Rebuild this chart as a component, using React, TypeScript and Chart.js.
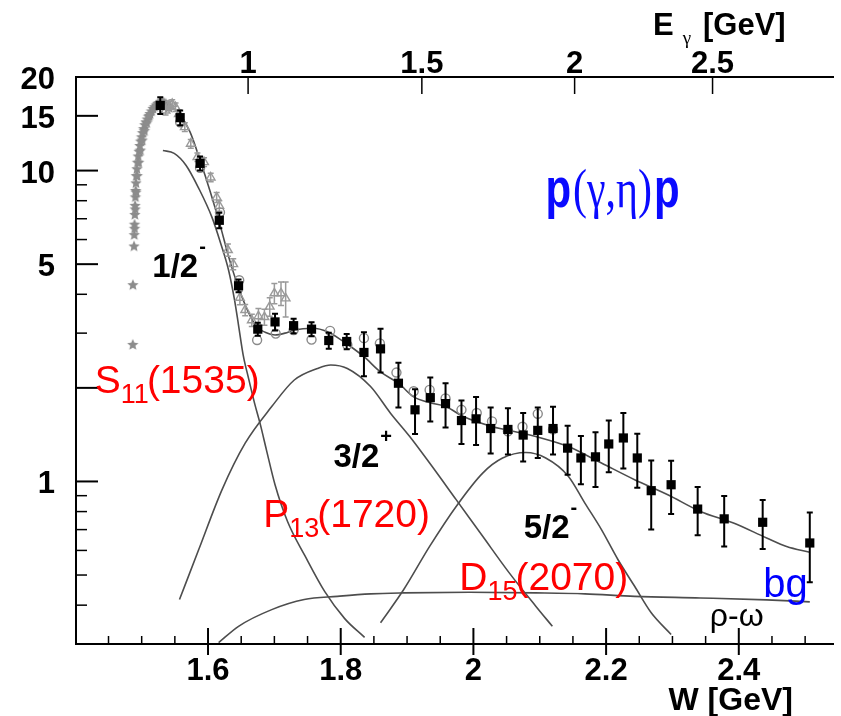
import React, { useEffect, useRef } from 'react';
import { Chart, registerables } from 'chart.js';

Chart.register(...registerables);

// ---- eta photoproduction total cross section, p(gamma,eta)p ----
// W in GeV, cross section in microbarn

// Main data set (filled squares)
const W_SQ = [1.528, 1.558, 1.588, 1.617, 1.646, 1.675, 1.701, 1.729, 1.756, 1.782, 1.809, 1.835, 1.860, 1.887, 1.912, 1.935, 1.958, 1.982, 2.004, 2.026, 2.052, 2.075, 2.097, 2.120, 2.142, 2.162, 2.184, 2.204, 2.226, 2.247, 2.268, 2.298, 2.338, 2.378, 2.436, 2.507];
const XS_SQ = [16.2, 14.8, 10.55, 6.92, 4.26, 3.09, 3.26, 3.17, 3.09, 2.84, 2.82, 2.60, 2.67, 2.07, 1.70, 1.86, 1.78, 1.57, 1.59, 1.48, 1.47, 1.41, 1.46, 1.48, 1.28, 1.19, 1.20, 1.32, 1.38, 1.19, 0.934, 0.976, 0.815, 0.758, 0.739, 0.634];
const ERR_SQ = [1.0, 0.8, 0.55, 0.40, 0.20, 0.15, 0.20, 0.17, 0.16, 0.17, 0.16, 0.42, 0.43, 0.34, 0.28, 0.30, 0.29, 0.25, 0.28, 0.25, 0.25, 0.25, 0.27, 0.26, 0.23, 0.21, 0.24, 0.25, 0.28, 0.235, 0.234, 0.19, 0.144, 0.14, 0.133, 0.16];

// Second data set (open circles)
const W_CIRC = [1.558, 1.588, 1.618, 1.647, 1.674, 1.702, 1.729, 1.756, 1.784, 1.810, 1.835, 1.859, 1.884, 1.910, 1.934, 1.958, 1.982, 2.005, 2.028, 2.052, 2.074, 2.097, 2.120];
const XS_CIRC = [14.3, 10.2, 7.34, 4.44, 2.85, 2.99, 3.07, 2.86, 3.05, 2.75, 2.89, 2.78, 2.24, 1.95, 1.97, 1.85, 1.70, 1.66, 1.56, 1.45, 1.50, 1.65, 1.47];

// Third data set (open triangles)
const W_TRI = [1.536, 1.541, 1.546, 1.551, 1.556, 1.565, 1.574, 1.584, 1.594, 1.604, 1.613, 1.617, 1.630, 1.638, 1.648, 1.656, 1.666, 1.676, 1.685, 1.693, 1.700, 1.710, 1.717];
const XS_TRI = [15.6, 16.2, 16.4, 16.0, 15.2, 13.8, 12.2, 11.05, 10.65, 9.5, 8.2, 7.7, 5.55, 5.0, 3.9, 3.56, 3.30, 3.40, 3.38, 3.65, 4.03, 4.03, 3.88];
const ERR_TRI = [0.5, 0.5, 0.5, 0.5, 0.5, 0.45, 0.4, 0.35, 0.35, 0.3, 0.3, 0.3, 0.25, 0.2, 0.2, 0.15, 0.15, 0.2, 0.2, 0.25, 0.3, 0.35, 0.5];

// Threshold region (stars)
const W_STAR = [1.4866, 1.4868, 1.4885, 1.4888, 1.4892, 1.4897, 1.4901, 1.4905, 1.4909, 1.4914, 1.4920, 1.4928, 1.4937, 1.4948, 1.4960, 1.4972, 1.4985, 1.4999, 1.5014, 1.5030, 1.5047, 1.5065, 1.5084, 1.5104, 1.5125, 1.5147, 1.5170, 1.5194, 1.5218, 1.5242, 1.5266, 1.5290, 1.5314, 1.5338, 1.5362, 1.5386, 1.5410, 1.4893, 1.4903, 1.4915, 1.4932, 1.4955, 1.4980, 1.5008, 1.5040, 1.5075, 1.5115];
const XS_STAR = [2.75, 4.28, 5.7, 6.2, 6.7, 7.2, 7.7, 8.2, 8.6, 9.1, 9.6, 10.1, 10.6, 11.1, 11.5, 12.0, 12.4, 12.8, 13.2, 13.6, 14.0, 14.3, 14.6, 14.9, 15.2, 15.5, 15.8, 16.0, 16.2, 16.4, 16.5, 16.6, 16.6, 16.5, 16.4, 16.2, 15.9, 6.5, 7.5, 8.5, 9.6, 10.6, 11.6, 12.5, 13.4, 14.2, 15.0];

// Full model
const W_FIT = [1.530, 1.545, 1.558, 1.573, 1.588, 1.603, 1.618, 1.632, 1.646, 1.661, 1.673, 1.686, 1.701, 1.716, 1.730, 1.758, 1.780, 1.805, 1.835, 1.860, 1.887, 1.910, 1.935, 1.959, 1.984, 2.029, 2.074, 2.094, 2.143, 2.193, 2.243, 2.293, 2.342, 2.392, 2.442, 2.472, 2.507];
const XS_FIT = [16.3, 16.0, 15.1, 13.3, 10.8, 8.6, 6.7, 5.2, 4.2, 3.5, 3.15, 3.02, 2.96, 3.00, 3.07, 3.11, 3.03, 2.81, 2.52, 2.25, 2.07, 1.87, 1.79, 1.74, 1.62, 1.50, 1.43, 1.395, 1.295, 1.146, 1.013, 0.906, 0.801, 0.735, 0.658, 0.618, 0.592];

// Partial waves
const W_S11 = [1.532, 1.549, 1.567, 1.586, 1.606, 1.619, 1.631, 1.640, 1.646, 1.653, 1.661, 1.670, 1.679, 1.688, 1.701, 1.720, 1.746, 1.776, 1.806, 1.836];
const XS_S11 = [11.6, 11.36, 10.39, 8.77, 7.07, 5.84, 4.78, 3.83, 3.18, 2.55, 2.15, 1.79, 1.52, 1.264, 0.976, 0.742, 0.577, 0.442, 0.362, 0.315];

const W_P13 = [1.557, 1.586, 1.621, 1.656, 1.696, 1.730, 1.765, 1.785, 1.810, 1.845, 1.875, 1.904, 1.934, 1.974, 2.014, 2.054, 2.094, 2.119];
const XS_P13 = [0.417, 0.604, 0.940, 1.328, 1.741, 2.12, 2.31, 2.37, 2.31, 2.02, 1.658, 1.395, 1.146, 0.874, 0.666, 0.508, 0.397, 0.342];

const W_D15 = [1.860, 1.895, 1.934, 1.974, 2.014, 2.044, 2.079, 2.109, 2.143, 2.168, 2.193, 2.218, 2.243, 2.268, 2.298];
const XS_D15 = [0.351, 0.449, 0.618, 0.831, 1.064, 1.189, 1.239, 1.19, 1.04, 0.852, 0.70, 0.56, 0.46, 0.378, 0.322];

const W_BG = [1.616, 1.646, 1.696, 1.745, 1.795, 1.845, 1.895, 1.994, 2.094, 2.168, 2.243, 2.342, 2.442, 2.507];
const XS_BG = [0.303, 0.342, 0.387, 0.417, 0.427, 0.435, 0.438, 0.440, 0.438, 0.435, 0.427, 0.422, 0.416, 0.410];

// Axes
const W_MIN = 1.401;
const W_MAX = 2.5435;
const Y_MIN = 0.3;
const Y_MAX = 20;
const W_MAJOR = [1.6, 1.8, 2.0, 2.2, 2.4];
const W_MAJOR_LABELS = ['1.6', '1.8', '2', '2.2', '2.4'];
const W_MINOR = [1.45, 1.5, 1.55, 1.65, 1.7, 1.75, 1.85, 1.9, 1.95, 2.05, 2.1, 2.15, 2.25, 2.3, 2.35, 2.45, 2.5];
const EG_TICKS = [1, 1.5, 2, 2.5];
const EG_LABELS = ['1', '1.5', '2', '2.5'];
const Y_MAJOR = [1, 2, 5, 10, 15];
const Y_MINOR = [0.4, 0.5, 0.6, 0.7, 0.8, 0.9, 3, 4, 6, 7, 8, 9];
const Y_LABEL_VALUES = [20, 15, 10, 5, 1];
const Y_LABELS = ['20', '15', '10', '5', '1'];

const M_PROTON = 0.938272;

const pts = (xs: number[], ys: number[]) => xs.map((x, i) => ({ x, y: ys[i] }));

function makeStar(r: number, color: string): HTMLCanvasElement {
  const c = document.createElement('canvas');
  const s = Math.ceil(r * 2 + 2);
  c.width = s;
  c.height = s;
  const g = c.getContext('2d')!;
  g.fillStyle = color;
  g.beginPath();
  for (let k = 0; k < 10; k++) {
    const ang = -Math.PI / 2 + (k * Math.PI) / 5;
    const rr = k % 2 === 0 ? r : r * 0.45;
    const x = s / 2 + rr * Math.cos(ang);
    const y = s / 2 + rr * Math.sin(ang);
    if (k === 0) g.moveTo(x, y);
    else g.lineTo(x, y);
  }
  g.closePath();
  g.fill();
  return c;
}

const SANS = "'Liberation Sans', Arial, Helvetica, sans-serif";
const SERIF = "'Liberation Serif', 'DejaVu Serif', serif";

const errorBarPlugin = {
  id: 'errorBars',
  beforeDatasetDraw(chart: any, args: any) {
    const ds = chart.data.datasets[args.index];
    if (!ds.errors) return;
    const xs = chart.scales.x;
    const ys = chart.scales.y;
    const ctx = chart.ctx as CanvasRenderingContext2D;
    const a = chart.chartArea;
    ctx.save();
    ctx.beginPath();
    ctx.rect(a.left, a.top, a.right - a.left, a.bottom - a.top);
    ctx.clip();
    ctx.strokeStyle = ds.errorColor;
    ctx.lineWidth = ds.errorWidth;
    const cap = ds.errorCap;
    ds.data.forEach((p: any, i: number) => {
      const e = ds.errors[i];
      const px = xs.getPixelForValue(p.x);
      const y1 = ys.getPixelForValue(p.y + e);
      const y2 = ys.getPixelForValue(Math.max(p.y - e, 1e-3));
      ctx.beginPath();
      ctx.moveTo(px, y1);
      ctx.lineTo(px, y2);
      ctx.moveTo(px - cap, y1);
      ctx.lineTo(px + cap, y1);
      ctx.moveTo(px - cap, y2);
      ctx.lineTo(px + cap, y2);
      ctx.stroke();
    });
    ctx.restore();
  },
};

function text(
  ctx: CanvasRenderingContext2D,
  s: string,
  x: number,
  y: number,
  font: string,
  color: string,
  align: CanvasTextAlign = 'left'
): number {
  ctx.font = font;
  ctx.fillStyle = color;
  ctx.textAlign = align;
  ctx.textBaseline = 'alphabetic';
  ctx.fillText(s, x, y);
  return ctx.measureText(s).width;
}

const framePlugin = {
  id: 'rootFrame',
  afterDraw(chart: any) {
    const ctx = chart.ctx as CanvasRenderingContext2D;
    const { left, right, top, bottom } = chart.chartArea;
    const xs = chart.scales.x;
    const ys = chart.scales.y;
    const X = (w: number) => xs.getPixelForValue(w);
    const Y = (v: number) => ys.getPixelForValue(v);
    const seg = (x1: number, y1: number, x2: number, y2: number) => {
      ctx.beginPath();
      ctx.moveTo(x1, y1);
      ctx.lineTo(x2, y2);
      ctx.stroke();
    };

    ctx.save();
    ctx.strokeStyle = '#000';
    ctx.lineWidth = 2;
    ctx.lineCap = 'butt';

    // frame lines
    seg(left, top, right, top);
    seg(left, bottom, right, bottom);
    seg(left, top - 1, left, bottom + 1);

    // bottom axis: W
    W_MAJOR.forEach((w, i) => {
      const px = X(w);
      seg(px, bottom - 16, px, bottom + 11);
      text(ctx, W_MAJOR_LABELS[i], px, bottom + 36, `bold 31px ${SANS}`, '#000', 'center');
    });
    ctx.lineWidth = 1.5;
    W_MINOR.forEach((w) => {
      const px = X(w);
      seg(px, bottom - 8, px, bottom);
    });
    text(ctx, 'W [GeV]', X(2.4816), bottom + 66, `bold 32px ${SANS}`, '#000', 'right');

    // top axis: photon energy
    ctx.lineWidth = 1.5;
    EG_TICKS.forEach((e, i) => {
      const w = Math.sqrt(M_PROTON * M_PROTON + 2 * M_PROTON * e);
      const px = X(w);
      seg(px, top, px, top + 17);
      text(ctx, EG_LABELS[i], px, top - 4, `bold 31px ${SANS}`, '#000', 'center');
    });
    {
      let x0 = 653;
      x0 += text(ctx, 'E', x0, 35, `bold 31px ${SANS}`, '#000');
      text(ctx, 'γ', x0 + 9, 44, `19px ${SERIF}`, '#000');
      text(ctx, '[GeV]', 703, 35, `bold 31px ${SANS}`, '#000');
    }

    // left axis: cross section (log)
    ctx.lineWidth = 2;
    Y_MAJOR.forEach((v) => {
      const py = Y(v);
      seg(left, py, left + 22, py);
    });
    ctx.lineWidth = 1.5;
    Y_MINOR.forEach((v) => {
      const py = Y(v);
      seg(left, py, left + 11, py);
    });
    Y_LABEL_VALUES.forEach((v, i) => {
      text(ctx, Y_LABELS[i], 55, Y(v) + 12, `bold 31px ${SANS}`, '#000', 'right');
    });

    // spin-parity labels
    const spin = (main: string, sup: string, w: number, v: number) => {
      const x0 = X(w);
      const y0 = Y(v);
      const wd = text(ctx, main, x0, y0, `bold 33px ${SANS}`, '#000');
      text(ctx, sup, x0 + wd + 1, y0 - 24, `bold 20px ${SANS}`, '#000');
    };
    spin('1/2', '-', 1.516, 4.54);
    spin('3/2', '+', 1.789, 1.115);
    spin('5/2', '-', 2.0757, 0.66);

    // resonance names
    const reso = (l: string, sub: string, rest: string, w: number, v: number) => {
      let x0 = X(w);
      const y0 = Y(v);
      x0 += text(ctx, l, x0, y0, `39px ${SANS}`, '#ff0000');
      x0 += text(ctx, sub, x0, y0 + 10, `27px ${SANS}`, '#ff0000');
      text(ctx, rest, x0 - 2, y0, `39px ${SANS}`, '#ff0000');
    };
    reso('S', '11', '(1535)', 1.4294, 1.927);
    reso('P', '13', '(1720)', 1.6831, 0.7154);
    reso('D', '15', '(2070)', 1.9787, 0.449);

    text(ctx, 'bg', X(2.4368), Y(0.425), `40px ${SANS}`, '#0000ff');
    text(ctx, 'ρ-ω', X(2.3563), Y(0.344), `32px ${SANS}`, '#000');

    // reaction label, slightly stretched vertically
    {
      const x0 = X(2.1085);
      const y0 = Y(7.65);
      ctx.save();
      ctx.translate(x0, y0);
      ctx.scale(1, 1.3);
      let cx = 0;
      const blue = '#0a0aff';
      cx += text(ctx, 'p', cx, 0, `bold 42px ${SANS}`, blue);
      cx += text(ctx, '(γ,η)', cx + 2, 0, `42px ${SERIF}`, blue) + 4;
      text(ctx, 'p', cx, 0, `bold 42px ${SANS}`, blue);
      ctx.restore();
    }

    ctx.restore();
  },
};

export default function App() {
  const ref = useRef<HTMLCanvasElement | null>(null);

  useEffect(() => {
    document.body.style.margin = '0';
    const canvas = ref.current;
    if (!canvas) return;
    const star = makeStar(6, '#8c8c8c');
    const curve = (data: { x: number; y: number }[]) => ({
      type: 'line' as const,
      data,
      showLine: true,
      borderColor: '#4d4d4d',
      borderWidth: 1.6,
      pointRadius: 0,
      fill: false,
      cubicInterpolationMode: 'monotone' as const,
      order: 10,
    });

    const chart = new Chart(canvas, {
      type: 'scatter',
      data: {
        datasets: [
          curve(pts(W_FIT, XS_FIT)),
          curve(pts(W_S11, XS_S11)),
          curve(pts(W_P13, XS_P13)),
          curve(pts(W_D15, XS_D15)),
          curve(pts(W_BG, XS_BG)),
          {
            data: pts(W_STAR, XS_STAR),
            pointStyle: star,
            pointRadius: 6,
            order: 6,
          } as any,
          {
            data: pts(W_TRI, XS_TRI),
            pointStyle: 'triangle',
            pointRadius: 5,
            borderColor: '#9a9a9a',
            backgroundColor: 'rgba(0,0,0,0)',
            borderWidth: 1.4,
            errors: ERR_TRI,
            errorColor: '#9a9a9a',
            errorWidth: 1.5,
            errorCap: 3,
            order: 5,
          } as any,
          {
            data: pts(W_CIRC, XS_CIRC),
            pointStyle: 'circle',
            pointRadius: 4.5,
            borderColor: '#8a8a8a',
            backgroundColor: 'rgba(0,0,0,0)',
            borderWidth: 1.4,
            order: 4,
          } as any,
          {
            data: pts(W_SQ, XS_SQ),
            pointStyle: 'rect',
            pointRadius: 6.5,
            borderColor: '#000',
            backgroundColor: '#000',
            borderWidth: 0,
            errors: ERR_SQ,
            errorColor: '#000',
            errorWidth: 2,
            errorCap: 3,
            order: 1,
          } as any,
        ],
      },
      options: {
        responsive: false,
        animation: false,
        devicePixelRatio: 1,
        events: [],
        layout: { padding: { left: 76, top: 77, right: 0, bottom: 72 } },
        plugins: {
          legend: { display: false },
          tooltip: { enabled: false },
        },
        scales: {
          x: { type: 'linear', min: W_MIN, max: W_MAX, display: false },
          y: { type: 'logarithmic', min: Y_MIN, max: Y_MAX, display: false },
        },
      },
      plugins: [errorBarPlugin, framePlugin],
    });
    return () => chart.destroy();
  }, []);

  return (
    <div style={{ width: 841, height: 716, background: '#fff' }}>
      <canvas ref={ref} width={841} height={716} style={{ display: 'block' }} />
    </div>
  );
}
